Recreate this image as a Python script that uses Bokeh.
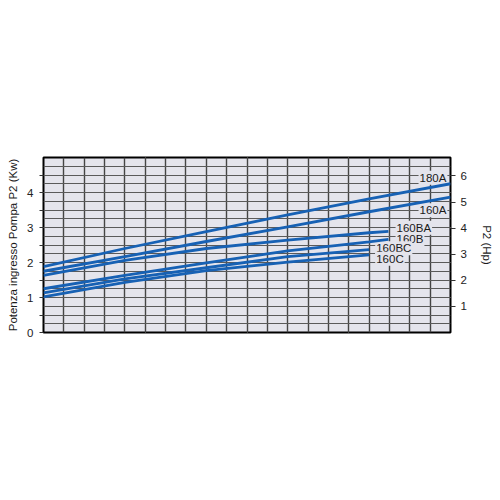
from bokeh.plotting import figure
from bokeh.models import (Range1d, LinearAxis, FixedTicker, Grid, Label)
from bokeh.embed import file_html
from bokeh.resources import INLINE

# ---- data ----
x_a = [0, 4, 8, 12, 16, 20]
kw_180A = [1.88, 2.40, 2.88, 3.36, 3.82, 4.25]
kw_160A = [1.75, 2.17, 2.60, 3.02, 3.45, 3.87]
x_b = [0, 4, 8, 12, 16, 16.95]
kw_160BA = [1.63, 2.06, 2.40, 2.64, 2.85, 2.89]
kw_160B = [1.25, 1.63, 1.99, 2.33, 2.59, 2.66]
x_c = [0, 4, 8, 12, 16]
kw_160BC = [1.13, 1.53, 1.85, 2.17, 2.37]
kw_160C = [1.02, 1.43, 1.77, 2.01, 2.22]

series_names = ["180A", "160A", "160BA", "160B", "160BC", "160C"]
kw_ticks = [0, 1, 2, 3, 4]
hp_ticks = [1, 2, 3, 4, 5, 6]
KW_PER_HP = 0.7457
left_title = "Potenza ingresso Pompa P2 (Kw)"
right_title = "P2 (Hp)"

# ---- styling ----
BG = "#e4e4ec"
BLUE = "#1761b4"
FONT = "Liberation Sans"
YMAX = 5.0

p = figure(frame_width=407, frame_height=175,
           min_border_left=43, min_border_right=42,
           min_border_top=157, min_border_bottom=159,
           x_range=Range1d(0, 20), y_range=Range1d(0, YMAX),
           x_axis_location=None, y_axis_location=None,
           output_backend="svg", toolbar_location=None,
           background_fill_color=BG, border_fill_color="white")
p.outline_line_color = "black"
p.outline_line_width = 2
p.extra_y_ranges = {"hp": Range1d(0, YMAX / KW_PER_HP)}

# grids
p.add_layout(Grid(dimension=0, ticker=FixedTicker(ticks=list(range(0, 21))),
                  grid_line_color="#444444", grid_line_width=1.4))
p.add_layout(Grid(dimension=1, ticker=FixedTicker(ticks=[i * 0.25 for i in range(0, 21)]),
                  grid_line_color="#5a5a5a", grid_line_width=1))

# left axis
la = LinearAxis(ticker=FixedTicker(ticks=kw_ticks,
                                   minor_ticks=[t + 0.5 for t in kw_ticks]),
                axis_label=left_title)
la.axis_line_color = None
la.major_tick_in = 0
la.major_tick_out = 4
la.minor_tick_in = 0
la.minor_tick_out = 4
la.major_tick_line_color = "#333333"
la.minor_tick_line_color = "#333333"
la.major_label_text_font = FONT
la.major_label_text_font_size = "11.5px"
la.major_label_text_color = "#222222"
la.major_label_standoff = 6
la.axis_label_text_font = FONT
la.axis_label_text_font_size = "11.5px"
la.axis_label_text_font_style = "normal"
la.axis_label_text_color = "#1a1a1a"
la.axis_label_standoff = 5
p.add_layout(la, "left")

# right axis
ra = LinearAxis(y_range_name="hp", ticker=FixedTicker(ticks=hp_ticks),
                axis_label=right_title)
ra.axis_line_color = None
ra.major_tick_in = 0
ra.major_tick_out = 5
ra.minor_tick_out = 0
ra.major_tick_line_color = "#333333"
ra.major_label_text_font = FONT
ra.major_label_text_font_size = "11.5px"
ra.major_label_text_color = "#222222"
ra.major_label_standoff = 5
ra.axis_label_text_font = FONT
ra.axis_label_text_font_size = "11.5px"
ra.axis_label_text_font_style = "normal"
ra.axis_label_text_color = "#1a1a1a"
ra.axis_label_standoff = 11
p.add_layout(ra, "right")

# curve labels (under the curves, over the grid)
label_pos = [(18.43, 4.42), (18.43, 3.49), (17.3, 2.99),
             (17.3, 2.67), (16.3, 2.41), (16.3, 2.11)]
for name, (lx, ly) in zip(series_names, label_pos):
    p.add_layout(Label(x=lx, y=ly, text=name, text_font=FONT,
                       text_font_size="11.5px", text_color="#1a1a1a",
                       text_baseline="middle", text_align="left",
                       background_fill_color=BG, padding=1,
                       level="underlay"))

# curves
for xs, ys in [(x_a, kw_180A), (x_a, kw_160A), (x_b, kw_160BA),
               (x_b, kw_160B), (x_c, kw_160BC), (x_c, kw_160C)]:
    p.line(xs, ys, line_color=BLUE, line_width=2.8, line_cap="butt")

open("out.html", "w").write(file_html(p, INLINE))
